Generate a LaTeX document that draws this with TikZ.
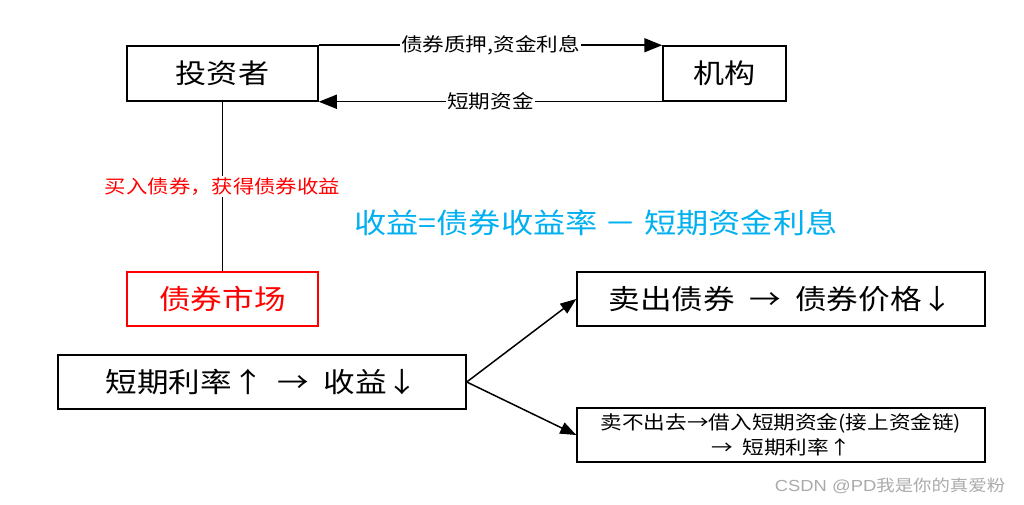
\documentclass[tikz,border=0pt]{standalone}
\usepackage{fontspec}
\setmainfont[FakeStretch=1.15]{Noto Sans CJK SC}
\newfontfamily\wmfont[FakeStretch=1.15]{Liberation Sans}
\usetikzlibrary{arrows.meta}
\definecolor{formula}{RGB}{0,176,240}
\definecolor{wm}{RGB}{170,170,170}
\tikzset{
  box/.style={draw, line width=1.5pt, inner sep=0pt, align=center},
  lbl/.style={fill=white, inner sep=1.5pt, font=\fontsize{18.8}{20}\selectfont},
  conn/.style={line width=1.5pt},
  bigtip/.style={-{Triangle[length=18pt,width=14pt]}},
  midtip/.style={-{Triangle[length=16pt,width=12pt]}}
}
\begin{document}
\begin{tikzpicture}[x=1pt,y=-1pt]
\useasboundingbox[fill=white] (0,0) rectangle (1024,505);
\node[box, minimum width=191pt, minimum height=55pt, font=\fontsize{27}{32}\selectfont] (inv) at (222.5,73.5) {投资者};
\node[box, minimum width=123pt, minimum height=55pt, font=\fontsize{27}{32}\selectfont] (org) at (724.5,73.5) {机构};
\node[box, draw=red, text=red, minimum width=191pt, minimum height=54pt, font=\fontsize{27.5}{32}\selectfont] (mkt) at (222.5,299) {债券市场};
\node[box, minimum width=408pt, minimum height=54pt, font=\fontsize{27.5}{32}\selectfont] (rate) at (262,382) {短期利率↑ \ → \ 收益↓};
\node[box, minimum width=408pt, minimum height=54pt, font=\fontsize{27.5}{32}\selectfont] (sell) at (781,299) {卖出债券 \ → \ 债券价格↓};
\node[box, minimum width=408pt, minimum height=54pt, font=\fontsize{18.8}{25}\selectfont] (nosell) at (781,435) {卖不出去→借入短期资金(接上资金链)\\→ \ 短期利率↑};
\node[text=formula, font=\fontsize{28}{32}\selectfont] (eq) at (596,223) {收益=债券收益率 － 短期资金利息};
\node[text=wm, font=\fontsize{16}{18}\selectfont] (wmk) at (890,486) {\wmfont CSDN @PD\rmfamily 我是你的真爱粉};
\draw[conn, bigtip] (inv.north east) -- node[lbl] {债券质押,资金利息} (org.north west);
\draw[conn, bigtip] (org.south west) -- node[lbl] {短期资金} (inv.south east);
\draw[conn] (inv.south) -- node[lbl, text=red, font=\fontsize{18.6}{20}\selectfont] {买入债券，获得债券收益} (mkt.north);
\draw[conn, midtip] (rate.east) -- (sell.west);
\draw[conn, midtip] (rate.east) -- (nosell.west);
\end{tikzpicture}
\end{document}
